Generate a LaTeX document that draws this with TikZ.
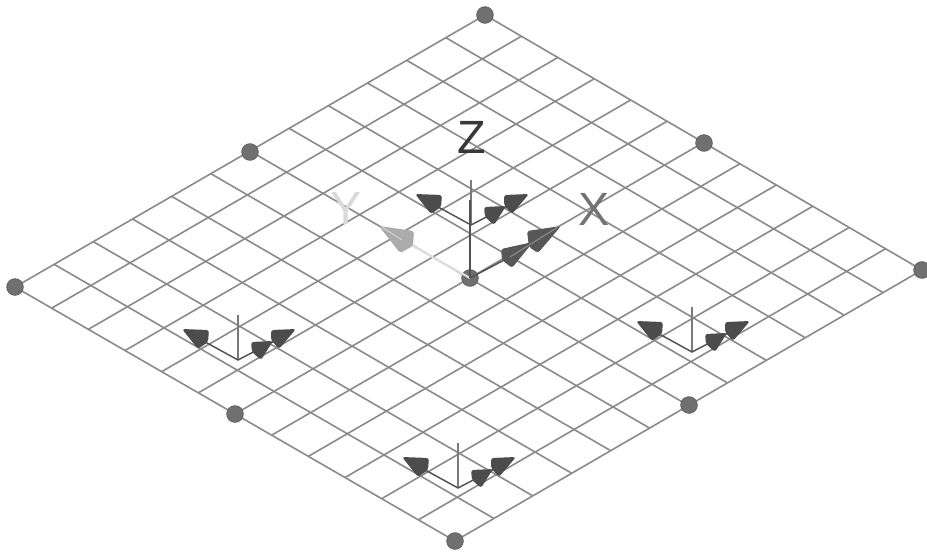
\documentclass[tikz,border=0pt]{standalone}
\usepackage{fontspec}
\setmainfont{Liberation Sans}
\usetikzlibrary{calc, backgrounds}

\begin{document}
\begin{tikzpicture}[x=0.75pt, y=-0.75pt,
      handle/.style={circle, draw=black!62, line width=0.6pt, fill=black!56, inner sep=0pt, minimum size=12.5pt},
      gridline/.style={draw=black!46, line width=1.2pt},
      armline/.style={draw=black!68, line width=1.1pt},
      upline/.style={draw=black!52, line width=1.1pt},
      conefill/.style={fill=black!70, rounded corners=2pt},
      axislabel/.style={font=\fontsize{35}{35}\selectfont}]
    \useasboundingbox (0,0) rectangle (927,551);
    % corners and edge midpoints of the plane
    \node[handle] (cornerT) at (485,15)  {};
    \node[handle] (cornerL) at (15,287)  {};
    \node[handle] (cornerR) at (922,270) {};
    \node[handle] (cornerB) at (455,541) {};
    \node[handle] (midTL)   at (250,152) {};
    \node[handle] (midTR)   at (704,143) {};
    \node[handle] (midBL)   at (235,414) {};
    \node[handle] (midBR)   at (689,405) {};
    \node[handle] (origin)  at (470,278) {};
    % grid
    \begin{pgfonlayer}{background}
      \foreach \i in {1,...,11} {
        \draw[gridline] ($(cornerL)!\i/12!(cornerB)$) -- ($(cornerT)!\i/12!(cornerR)$);
        \draw[gridline] ($(cornerL)!\i/12!(cornerT)$) -- ($(cornerB)!\i/12!(cornerR)$);
      }
      \draw[gridline] (cornerT.center) -- (cornerR.center) -- (cornerB.center) -- (cornerL.center) -- cycle;
    \end{pgfonlayer}
    % small triads
    \foreach \nm/\ox/\oy in {a/238/360, b/471/225, c/458/488, d/692/352} {
      \begin{scope}[shift={(\ox,\oy)}]
        \coordinate (o\nm) at (0,0);
        \coordinate (z\nm) at (0,-45);
        \coordinate (l\nm) at (-40,-22);
        \coordinate (r\nm) at (42,-22);
        \draw[upline] (o\nm) -- (z\nm);
        \draw[armline] (l\nm) -- (o\nm) -- (r\nm);
        \fill[conefill] (-56,-31) -- (-29,-30) -- (-30,-18) -- (-40,-11) -- cycle;
        \fill[conefill] (58,-31) -- (33,-30) -- (33,-20) -- (41,-11) -- cycle;
        \fill[conefill] (35,-19) -- (13,-18) -- (14,-8) -- (23,0) -- cycle;
      \end{scope}
    }
    % main axes
    \coordinate (xbase) at (510,257);
    \coordinate (xtip) at (558,227);
    \coordinate (ybase) at (402,240);
    \coordinate (ytip) at (382,227);
    \coordinate (ztip) at (470,200);
    \draw[draw=black!68, line width=1.1pt] (origin.center) -- (xbase);
    \draw[draw=black!12, line width=1.5pt] (origin.center) -- (ybase);
    \draw[draw=black!68, line width=1.1pt] (origin.center) -- (ztip);
    \fill[conefill, fill=black!66] (561,226) -- (527,231) -- (529,247) -- (538,253) -- cycle;
    \fill[conefill, fill=black!66] (533,242) -- (501,249) -- (502,260) -- (512,268) -- cycle;
    \fill[conefill, fill=black!33] (379,226) -- (414,231) -- (413,246) -- (400,253) -- cycle;
    \draw[draw=black!45, line width=0.8pt] (xbase) -- (xtip);
    \draw[draw=black!18, line width=0.8pt] (ybase) -- (ytip);
    % labels
    \node[axislabel, text=black!78] (labelZ) at (472,137) {Z};
    \node[axislabel, text=black!55] (labelX) at (594,209) {X};
    \node[axislabel, text=black!15] (labelY) at (346,208) {Y};
\end{tikzpicture}
\end{document}
